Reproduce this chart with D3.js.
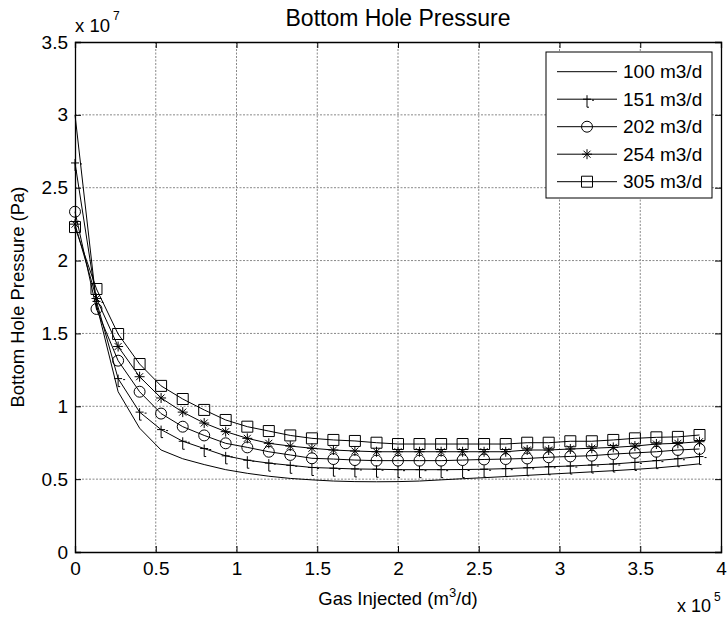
<!DOCTYPE html>
<html>
<head>
<meta charset="utf-8">
<script src="https://cdn.jsdelivr.net/npm/d3@7"></script>
<style>
  body { margin: 0; background: #fff; }
  text { font-family: "Liberation Sans", Arial, sans-serif; fill: #000; }
</style>
</head>
<body>
<div id="d3-container"></div>
<script>
var width = 728;
var height = 619;

// Data (x in 1e5 m3/d, pressure in 1e7 Pa)
var gasInjected = [0, 0.133, 0.267, 0.4, 0.533, 0.667, 0.8, 0.933, 1.067, 1.2,
    1.333, 1.467, 1.6, 1.733, 1.867, 2.0, 2.133, 2.267, 2.4, 2.533,
    2.667, 2.8, 2.933, 3.067, 3.2, 3.333, 3.467, 3.6, 3.733, 3.867];
var p100 = [3.0, 1.70, 1.10, 0.85, 0.70, 0.64, 0.60, 0.565, 0.54, 0.52,
    0.505, 0.495, 0.487, 0.483, 0.482, 0.483, 0.487, 0.495, 0.503, 0.51,
    0.518, 0.526, 0.534, 0.542, 0.55, 0.558, 0.567, 0.577, 0.59, 0.605];
var p151 = [2.67, 1.72, 1.19, 0.96, 0.84, 0.76, 0.71, 0.66, 0.63, 0.61,
    0.595, 0.58, 0.575, 0.57, 0.568, 0.565, 0.565, 0.565, 0.566, 0.568,
    0.572, 0.578, 0.585, 0.59, 0.597, 0.604, 0.615, 0.627, 0.64, 0.655];
var p202 = [2.335, 1.668, 1.313, 1.10, 0.95, 0.86, 0.80, 0.746, 0.718, 0.688,
    0.666, 0.643, 0.638, 0.631, 0.627, 0.627, 0.627, 0.627, 0.631, 0.635,
    0.638, 0.642, 0.65, 0.656, 0.661, 0.672, 0.68, 0.688, 0.70, 0.707];
var p254 = [2.25, 1.74, 1.41, 1.203, 1.057, 0.96, 0.885, 0.826, 0.78, 0.746,
    0.727, 0.712, 0.70, 0.693, 0.688, 0.688, 0.688, 0.688, 0.688, 0.688,
    0.688, 0.70, 0.70, 0.707, 0.712, 0.718, 0.727, 0.741, 0.746, 0.757];
var p305 = [2.23, 1.805, 1.496, 1.29, 1.14, 1.05, 0.975, 0.906, 0.86, 0.83,
    0.80, 0.78, 0.769, 0.762, 0.75, 0.741, 0.741, 0.741, 0.741, 0.741,
    0.741, 0.75, 0.75, 0.76, 0.76, 0.769, 0.78, 0.787, 0.79, 0.803];
var seriesNames = ["100 m3/d", "151 m3/d", "202 m3/d", "254 m3/d", "305 m3/d"];
var seriesMarkers = ["none", "plus", "circle", "star", "square"];
var xTicks = [0, 0.5, 1, 1.5, 2, 2.5, 3, 3.5, 4];
var yTicks = [0, 0.5, 1, 1.5, 2, 2.5, 3, 3.5];

var series = [p100, p151, p202, p254, p305].map(function(vals, k) {
    return { name: seriesNames[k], marker: seriesMarkers[k], values: vals };
});

var margin = { top: 42, right: 7, bottom: 67, left: 75 };
var plotW = width - margin.left - margin.right;
var plotH = height - margin.top - margin.bottom;

var svg = d3.select("#d3-container")
    .append("svg")
    .attr("width", width)
    .attr("height", height);

var g = svg.append("g")
    .attr("transform", "translate(" + margin.left + "," + margin.top + ")");

var x = d3.scaleLinear().domain([0, 4]).range([0, plotW]);
var y = d3.scaleLinear().domain([0, 3.5]).range([plotH, 0]);

// Dotted grid
g.selectAll(".vgrid")
    .data(xTicks.slice(1, -1))
    .enter()
    .append("line")
    .attr("x1", d => x(d)).attr("x2", d => x(d))
    .attr("y1", 0).attr("y2", plotH)
    .attr("stroke", "#888")
    .attr("stroke-dasharray", "2,1.5");

g.selectAll(".hgrid")
    .data(yTicks.slice(1, -1))
    .enter()
    .append("line")
    .attr("x1", 0).attr("x2", plotW)
    .attr("y1", d => y(d)).attr("y2", d => y(d))
    .attr("stroke", "#888")
    .attr("stroke-dasharray", "2,1.5");

// Axes with inward ticks on all four sides
function styleAxis(sel) {
    sel.selectAll("path").attr("stroke", "#000").attr("stroke-width", 1.3);
    sel.selectAll("line").attr("stroke", "#000");
    sel.selectAll("text").style("font-size", "19px").attr("fill", "#000");
}

g.append("g")
    .attr("transform", "translate(0," + plotH + ")")
    .call(d3.axisBottom(x).tickValues(xTicks).tickFormat(d3.format("")).tickSize(-6).tickPadding(10))
    .call(styleAxis);

g.append("g")
    .call(d3.axisLeft(y).tickValues(yTicks).tickFormat(d3.format("")).tickSize(-6).tickPadding(7))
    .call(styleAxis);

g.append("g")
    .call(d3.axisTop(x).tickValues(xTicks).tickFormat("").tickSize(-6))
    .call(styleAxis);

g.append("g")
    .attr("transform", "translate(" + plotW + ",0)")
    .call(d3.axisRight(y).tickValues(yTicks).tickFormat("").tickSize(-6))
    .call(styleAxis);

// Lines
var line = d3.line()
    .x((d, i) => x(gasInjected[i]))
    .y(d => y(d));

g.selectAll(".series")
    .data(series)
    .enter()
    .append("path")
    .attr("d", d => line(d.values))
    .attr("fill", "none")
    .attr("stroke", "#000")
    .attr("stroke-width", 1);

// Marker shapes
var markerPaths = {
    plus: "M-4,0H4M0,-4V8H2M5,1H7",
    star: "M-5,0H5M0,-5V5M-3.5,-3.5L3.5,3.5M-3.5,3.5L3.5,-3.5",
    square: "M-5.5,-5.5H5.5V5.5H-5.5Z",
    circle: d3.symbol().type(d3.symbolCircle).size(Math.PI * 30)()
};

series.forEach(function(s) {
    if (s.marker === "none") return;
    g.selectAll(".m-" + s.marker)
        .data(s.values)
        .enter()
        .append("path")
        .attr("transform", (d, i) => "translate(" + x(gasInjected[i]) + "," + y(d) + ")")
        .attr("d", markerPaths[s.marker])
        .attr("fill", "none")
        .attr("stroke", "#000")
        .attr("stroke-width", 1);
});

// Legend
var legend = svg.append("g").attr("transform", "translate(546,52)");
legend.append("rect")
    .attr("width", 166).attr("height", 146)
    .attr("fill", "#fff").attr("stroke", "#000");

var rows = legend.selectAll(".row")
    .data(series)
    .enter()
    .append("g")
    .attr("transform", (d, i) => "translate(0," + (19.7 + i * 27.5) + ")");

rows.append("line")
    .attr("x1", 11).attr("x2", 71)
    .attr("stroke", "#000");

rows.filter(d => d.marker !== "none")
    .append("path")
    .attr("transform", "translate(41,0)")
    .attr("d", d => markerPaths[d.marker])
    .attr("fill", "none")
    .attr("stroke", "#000");

rows.append("text")
    .attr("x", 77)
    .attr("dy", "0.35em")
    .style("font-size", "19px")
    .text(d => d.name);

// Titles and exponent labels
svg.append("text")
    .attr("x", margin.left + plotW / 2)
    .attr("y", 26)
    .attr("text-anchor", "middle")
    .style("font-size", "23px")
    .text("Bottom Hole Pressure");

svg.append("text")
    .attr("x", 75).attr("y", 32)
    .style("font-size", "18.5px")
    .text("x 10");
svg.append("text")
    .attr("x", 113).attr("y", 20)
    .style("font-size", "12px")
    .text("7");

svg.append("text")
    .attr("x", 677).attr("y", 612)
    .style("font-size", "18px")
    .text("x 10");
svg.append("text")
    .attr("x", 714).attr("y", 601)
    .style("font-size", "12px")
    .text("5");

var xLabel = svg.append("text")
    .attr("x", margin.left + plotW / 2)
    .attr("y", 605)
    .attr("text-anchor", "middle")
    .style("font-size", "18.5px");
xLabel.append("tspan").text("Gas Injected (m");
xLabel.append("tspan").attr("dy", -8).style("font-size", "13px").text("3");
xLabel.append("tspan").attr("dy", 8).text("/d)");

svg.append("text")
    .attr("transform", "translate(24," + (margin.top + plotH / 2) + ") rotate(-90)")
    .attr("text-anchor", "middle")
    .style("font-size", "18.5px")
    .text("Bottom Hole Pressure (Pa)");
</script>
</body>
</html>
